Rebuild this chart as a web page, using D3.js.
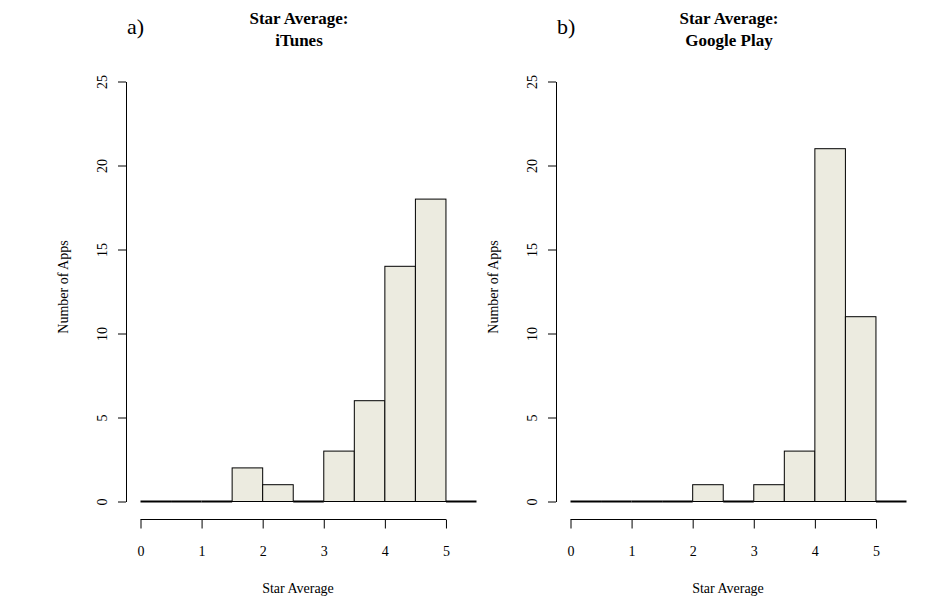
<!DOCTYPE html>
<html>
<head>
  <title>star average histograms</title>
  <style>
    body { margin: 0; background: #fff; }
    text { font-family: "Liberation Serif", "Times New Roman", serif; fill: #000; }
  </style>
</head>
<body>
<script src="https://cdn.jsdelivr.net/npm/d3@7/dist/d3.min.js"></script>
<script>
  // histogram bins (width 0.5) and counts
  var binStarts = [0, 0.5, 1, 1.5, 2, 2.5, 3, 3.5, 4, 4.5, 5];
  var itunesCounts = [0, 0, 0, 2, 1, 0, 3, 6, 14, 18, 0];
  var googleCounts = [0, 0, 0, 0, 1, 0, 1, 3, 21, 11, 0];
  var xTicks = [0, 1, 2, 3, 4, 5];
  var yTicks = [0, 5, 10, 15, 20, 25];

  var panels = [
    { tag: "a)", title: ["Star Average:", "iTunes"], counts: itunesCounts, left: 0 },
    { tag: "b)", title: ["Star Average:", "Google Play"], counts: googleCounts, left: 430 }
  ];

  var width = 945, height = 605;
  var binWidth = 0.5;

  var svg = d3.select("body").append("svg")
      .attr("width", width)
      .attr("height", height);

  panels.forEach(function (p) {
    var g = svg.append("g").attr("transform", "translate(" + p.left + ",0)");

    var x = d3.scaleLinear().domain([0, 5.5]).range([140.5, 476.5]);
    var y = d3.scaleLinear().domain([0, 25]).range([501.5, 81.5]);

    var data = binStarts.map(function (b, i) { return { x0: b, x1: b + binWidth, n: p.counts[i] }; });

    // bars with a count
    g.selectAll("rect.bar")
      .data(data.filter(function (d) { return d.n > 0; }))
      .enter()
      .append("rect")
      .attr("class", "bar")
      .attr("x", function (d) { return x(d.x0); })
      .attr("y", function (d) { return y(d.n); })
      .attr("width", function (d) { return x(d.x1) - x(d.x0); })
      .attr("height", function (d) { return y(0) - y(d.n); })
      .attr("fill", "#ECEBE0")
      .attr("stroke", "#000")
      .attr("stroke-width", 1);

    // empty bins show up as a flat (doubled) edge
    g.selectAll("line.empty")
      .data(data.filter(function (d) { return d.n === 0; }))
      .enter()
      .append("line")
      .attr("class", "empty")
      .attr("x1", function (d) { return x(d.x0); })
      .attr("x2", function (d) { return x(d.x1); })
      .attr("y1", y(0))
      .attr("y2", y(0))
      .attr("stroke", "#000")
      .attr("stroke-width", 2);

    // y axis
    var yAxis = d3.axisLeft(y).tickValues(yTicks).tickSize(8).tickSizeOuter(0).tickFormat(d3.format("d"));
    var ya = g.append("g")
      .attr("transform", "translate(126,0)")
      .call(yAxis);
    ya.select(".domain").attr("stroke", "#000");
    ya.selectAll(".tick line").attr("stroke", "#000");
    ya.selectAll(".tick text")
      .attr("x", 0)
      .attr("y", -19)
      .attr("dy", null)
      .attr("transform", "rotate(-90)")
      .attr("text-anchor", "middle")
      .style("font-size", "14px")
      .style("font-family", "Liberation Serif, serif");

    // x axis
    var xAxis = d3.axisBottom(x).tickValues(xTicks).tickSize(9).tickSizeOuter(0).tickFormat(d3.format("d"));
    var xa = g.append("g")
      .attr("transform", "translate(0,519.5)")
      .call(xAxis);
    xa.select(".domain").remove();
    xa.append("line")
      .attr("x1", x(0)).attr("x2", x(5))
      .attr("stroke", "#000");
    xa.selectAll(".tick line").attr("stroke", "#000");
    xa.selectAll(".tick text")
      .attr("y", 36)
      .attr("dy", null)
      .style("font-size", "14px")
      .style("font-family", "Liberation Serif, serif");

    // labels
    g.append("text")
      .attr("x", 298)
      .attr("y", 593)
      .attr("text-anchor", "middle")
      .style("font-size", "14px")
      .text("Star Average");

    g.append("text")
      .attr("transform", "translate(68,287) rotate(-90)")
      .attr("text-anchor", "middle")
      .style("font-size", "14px")
      .text("Number of Apps");

    // title
    g.append("text")
      .attr("x", 299)
      .attr("y", 24)
      .attr("text-anchor", "middle")
      .style("font-size", "17px")
      .style("font-weight", "bold")
      .text(p.title[0]);
    g.append("text")
      .attr("x", 299)
      .attr("y", 46)
      .attr("text-anchor", "middle")
      .style("font-size", "17px")
      .style("font-weight", "bold")
      .text(p.title[1]);

    g.append("text")
      .attr("x", 127)
      .attr("y", 34)
      .style("font-size", "22px")
      .text(p.tag);
  });
</script>
</body>
</html>
